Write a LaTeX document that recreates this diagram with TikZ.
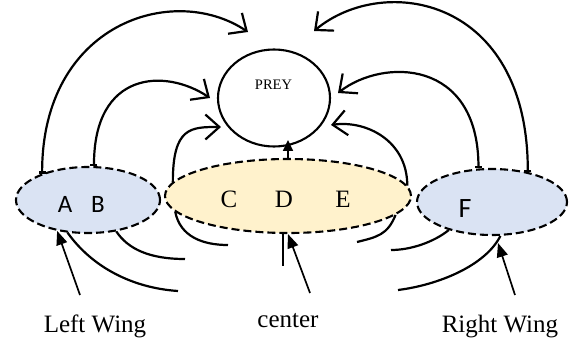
\documentclass[tikz,border=0pt]{standalone}
\usepackage{fontspec}
\setmainfont{Liberation Serif}
\newfontfamily\sansf{Carlito}
\usetikzlibrary{shapes.geometric,arrows.meta}
\definecolor{wingblue}{HTML}{DAE3F3}
\definecolor{centeryellow}{HTML}{FFF2CC}
\begin{document}
\begin{tikzpicture}[x=1pt,y=-1pt,
  teambox/.style={ellipse, draw=black, line width=2.1pt, dash pattern=on 8pt off 4pt, inner sep=0pt},
  preybox/.style={ellipse, draw=black, line width=2.1pt, inner sep=0pt},
  curvestroke/.style={line width=2.2pt},
  openhead/.style={-{Straight Barb[length=14pt,width=25pt]}},
  tickopen/.style={{Bar[width=7pt]}-{Straight Barb[length=14pt,width=25pt]}},
  labelarrow/.style={line width=1.7pt, -{Triangle[length=14pt,width=11pt]}},
  uparrow/.style={line width=1.7pt, -{Triangle[length=11pt,width=10pt]}},
  sansletter/.style={anchor=base, font=\sansf\fontsize{25}{29}\selectfont},
  serifletter/.style={anchor=base, font=\fontsize{25}{30}\selectfont},
  labeltext/.style={anchor=base, font=\fontsize{25}{30}\selectfont}
]
\useasboundingbox (0,0) rectangle (574,343);

% groups
\node[teambox, fill=wingblue, minimum width=144pt, minimum height=66pt] (L) at (88,200) {};
\node[teambox, fill=centeryellow, minimum width=246pt, minimum height=74pt] (C) at (288,196) {};
\node[teambox, fill=wingblue, minimum width=150pt, minimum height=66pt] (R) at (492,202) {};
\node[preybox, minimum width=112pt, minimum height=97pt] (P) at (274,98) {};
\node[anchor=base, font=\fontsize{14.5}{17}\selectfont] (preytext) at (273.5,89) {PREY};

% letters
\node[sansletter] (la) at (65,212) {A};
\node[sansletter] (lb) at (98,212) {B};
\node[serifletter] (lc) at (229,207) {C};
\node[serifletter] (ld) at (284,207) {D};
\node[serifletter] (le) at (343,207) {E};
\node[sansletter, font=\sansf\fontsize{28}{32}\selectfont] (lf) at (465,217) {F};

% arrow ends
\coordinate (t1) at (248,32);
\coordinate (t2) at (210,98);
\coordinate (t3) at (221,127);
\coordinate (t4) at (314,31);
\coordinate (t5) at (338,93);
\coordinate (t6) at (331,125);

% upper arcs
\draw[curvestroke, tickopen] (L.150) .. controls +(0,-150) and +(-75,-50) .. (t1);
\draw[curvestroke, tickopen] (L.80) .. controls +(0,-95) and +(-45,-30) .. (t2);
\draw[curvestroke, openhead] (C.173.5) .. controls +(0,-55) and +(-30,0) .. (t3);
\draw[curvestroke, tickopen] (R.40) .. controls +(0,-175) and +(70,-58) .. (t4);
\draw[curvestroke, tickopen] (R.112) .. controls +(0,-110) and +(45,-35) .. (t5);
\draw[curvestroke, openhead] (C.5.6) .. controls +(0,-45) and +(35,-5) .. (t6);

% centre to prey
\draw[uparrow] (C.north) -- ++(0,-18);

% lower tails
\coordinate (e1) at (228,245);
\coordinate (e2) at (185,259);
\coordinate (e3) at (178,291);
\coordinate (e4) at (357,242);
\coordinate (e5) at (391,250);
\coordinate (e6) at (398,290);
\draw[curvestroke] (C.188.5) .. controls +(5,25) and +(-25,0) .. (e1);
\draw[curvestroke] (L.312) .. controls +(12,18) and +(-35,0) .. (e2);
\draw[curvestroke] (L.238) .. controls +(25,35) and +(-45,-3) .. (e3);
\draw[curvestroke] (C.350.7) .. controls +(-8,20) and +(20,-5) .. (e4);
\draw[curvestroke] (R.213.7) .. controls +(-15,12) and +(20,0) .. (e5);
\draw[curvestroke] (R.284) .. controls +(-15,30) and +(40,-5) .. (e6);

% labels
\node[labeltext] (lw) at (95,332) {Left Wing};
\node[labeltext] (cn) at (288,327) {center};
\node[labeltext] (rw) at (500,332) {Right Wing};

\coordinate (lwt) at (80,295);
\coordinate (ct) at (310,293);
\coordinate (rwt) at (515,295);
\coordinate (rwh) at (498,243);
\draw[labelarrow] (lwt) -- (L.225);
\draw[labelarrow] (ct) -- (C.south);
\draw[line width=1.7pt] (C.262) -- ++(0,32);
\draw[labelarrow] (rwt) -- (rwh);
\end{tikzpicture}
\end{document}
